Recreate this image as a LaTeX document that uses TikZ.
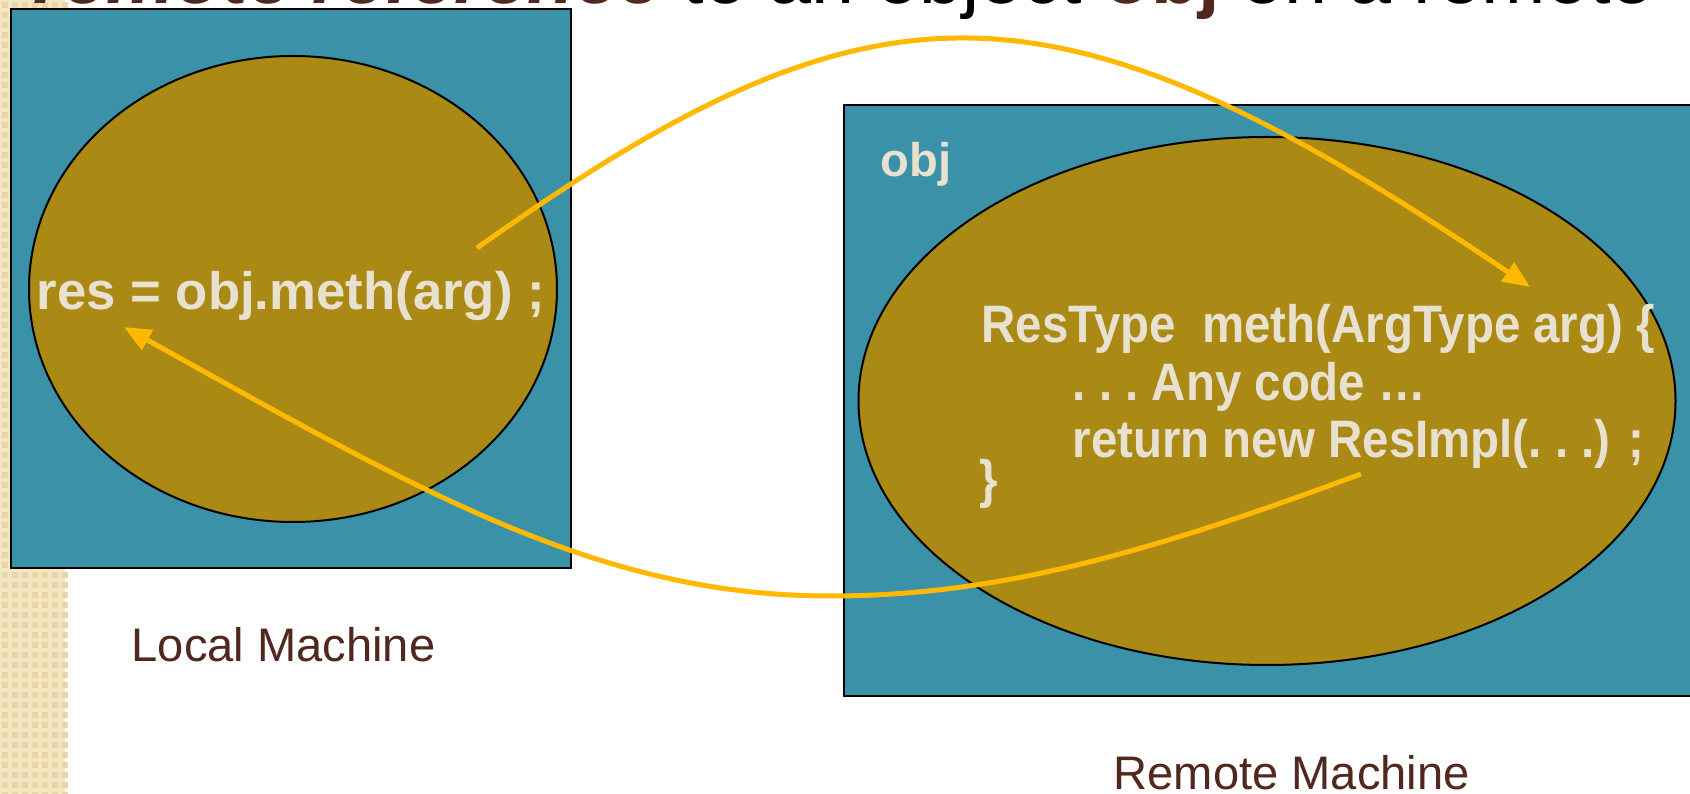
\documentclass[tikz,border=0pt]{standalone}
\usepackage{fontspec}
\setmainfont{Liberation Sans}
\newfontfamily\codefont[FakeStretch=0.9]{Liberation Sans}
\usetikzlibrary{positioning, shapes.geometric, arrows.meta}
\definecolor{boxteal}{HTML}{3A91A8}
\definecolor{blobgold}{HTML}{AA8915}
\definecolor{callamber}{HTML}{FFB900}
\definecolor{codecream}{HTML}{E8E1D0}
\definecolor{titlebrown}{HTML}{50281E}
\definecolor{stripbase}{HTML}{F5E6C2}
\definecolor{stripdot}{HTML}{E9D5AA}

\begin{document}
\begin{tikzpicture}[x=0.1mm, y=-0.1mm,
  machine/.style={draw=black, line width=0.25mm, fill=boxteal, inner sep=0pt},
  blob/.style={ellipse, draw=black, line width=0.2mm, fill=blobgold, inner sep=0pt},
  codetxt/.style={text=codecream, font=\codefont\bfseries\fontsize{15pt}{18pt}\selectfont, anchor=base west, inner sep=0pt},
  caption/.style={text=titlebrown, font=\fontsize{13.4pt}{16pt}\selectfont, anchor=base west, inner sep=0pt},
  call/.style={callamber, line width=0.5mm, -{Triangle[length=2.7mm, width=2.2mm]}}]

    \useasboundingbox (0,0) rectangle (1690,794);
    \fill[white] (0,0) rectangle (1690,794);
    % checkered strip on the left
    \fill[stripbase] (0,0) rectangle (65,794);
    \foreach \i in {0,...,6}
        \foreach \j in {0,...,79}
            \fill[stripdot] (\i*10+2,\j*10+2) rectangle +(6,6);

    % title, cut by the top edge
    \node[anchor=base west, inner sep=0pt, font=\fontsize{22pt}{26pt}\selectfont] (title) at (33,4)
        {\textcolor{titlebrown}{\bfseries\itshape remote reference} to an object \textcolor{titlebrown}{\bfseries obj} on a remote};

    % the two machines
    \node[machine, minimum width=56mm, minimum height=55.9mm] (local) at (291,288.5) {};
    \node[blob, minimum width=52.8mm, minimum height=46.6mm] (localobj) at (293,289) {};
    \node[machine, minimum width=85.6mm, minimum height=59.1mm] (remote) at (1272,400.5) {};
    \node[blob, minimum width=81.7mm, minimum height=52.8mm] (remoteobj) at (1267,401) {};

    \node[codetxt, font=\bfseries\fontsize{15pt}{18pt}\selectfont] (callsite) at (36,310) {res = obj.meth(arg) ;};
    \node[codetxt, font=\bfseries\fontsize{13.4pt}{16pt}\selectfont] (objlabel) at (880,177) {obj};
    \node[codetxt] (sig) at (981,343) {ResType\ \ meth(ArgType arg) \{};
    \node[codetxt] (body) at (1072,401) {.\ .\ .\ Any code …};
    \node[codetxt] (ret) at (1072,458) {return new ResImpl(.\ .\ .) ;};
    \node[codetxt] (close) at (979,498) {\}};

    \node[caption] (localcap) at (131,661) {Local Machine};
    \node[caption] (remotecap) at (1113,789) {Remote Machine};

    % call and return
    \coordinate (callfrom) at (477,248);
    \coordinate (callto) at (1530,287);
    \coordinate (retfrom) at (1361,474);
    \coordinate (retlow) at (830,596);
    \coordinate (retto) at (124,327);
    \draw[call] (callfrom) .. controls (877,-36) and (1053,-36) .. (callto);
    \draw[call] (retfrom) .. controls (1150,552) and (1000,596) .. (retlow)
        .. controls (600,596) and (424,494) .. (retto);
\end{tikzpicture}
\end{document}
